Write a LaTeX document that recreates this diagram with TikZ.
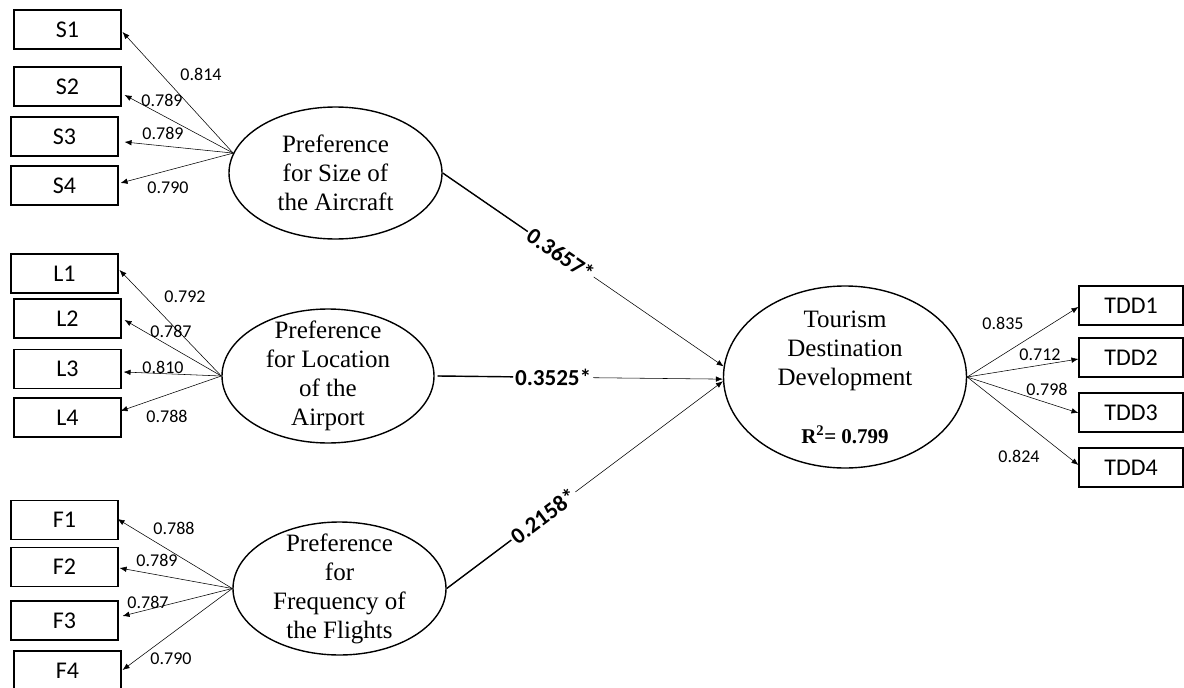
\documentclass[tikz,border=0pt]{standalone}
\usepackage{fontspec}
\setmainfont{Liberation Serif}
\newfontfamily\calibri{Carlito}
\usetikzlibrary{arrows.meta,shapes.geometric}

\begin{document}
\begin{tikzpicture}[x=1pt,y=-1pt,
  indicator/.style={draw, line width=1.1pt, minimum height=39pt, inner sep=0pt,
    font=\calibri\fontsize{24}{24}\selectfont},
  leftbox/.style={indicator, minimum width=107pt},
  rightbox/.style={indicator, minimum width=104pt},
  construct/.style={draw, ellipse, line width=1.4pt, inner sep=0pt},
  ctext/.style={align=center, font=\fontsize{25}{29}\selectfont, inner sep=0pt},
  loading/.style={line width=0.55pt, -{Latex[length=7pt,width=5.5pt]}},
  coef/.style={font=\calibri\fontsize{18}{18}\selectfont, inner sep=0pt},
  pathcoef/.style={font=\calibri\bfseries\fontsize{23}{23}\selectfont, fill=white,
    inner sep=2pt, sloped},
  paththin/.style={line width=0.55pt, -{Latex[length=7pt,width=5.5pt]}},
  paththick/.style={line width=1.4pt}
]
\useasboundingbox (0,0) rectangle (1184,688);

% ---- indicator boxes, left side
\node[leftbox] (S1) at (67.5,29.5) {S1};
\node[leftbox] (S2) at (67.5,86.5) {S2};
\node[leftbox] (S3) at (64.5,136.5) {S3};
\node[leftbox] (S4) at (64.5,185.5) {S4};

\node[leftbox] (L1) at (64.5,273.5) {L1};
\node[leftbox] (L2) at (67.5,318.5) {L2};
\node[leftbox] (L3) at (67.5,369) {L3};
\node[leftbox] (L4) at (67.5,417.5) {L4};

\node[leftbox] (F1) at (64.5,520) {F1};
\node[leftbox] (F2) at (64.5,567) {F2};
\node[leftbox] (F3) at (64.5,620.5) {F3};
\node[leftbox] (F4) at (67.5,670.5) {F4};

% ---- indicator boxes, right side
\node[rightbox] (D1) at (1131,305.5) {TDD1};
\node[rightbox] (D2) at (1131,357.5) {TDD2};
\node[rightbox] (D3) at (1131,412.5) {TDD3};
\node[rightbox] (D4) at (1131,467.5) {TDD4};

% ---- latent constructs
\node[construct, minimum width=213pt, minimum height=132pt] (S) at (335.5,173) {};
\node[ctext] (St) at (335.5,173) {Preference\\for Size of\\the Aircraft};

\node[construct, minimum width=212pt, minimum height=134pt] (L) at (328,376) {};
\node[ctext] (Lt) at (328,376) {Preference\\for Location\\of the\\Airport};

\node[construct, minimum width=213pt, minimum height=133pt] (F) at (339.5,588.5) {};
\node[ctext] (Ft) at (339.5,589) {Preference\\for\\Frequency of\\the Flights};

\node[construct, minimum width=243pt, minimum height=182pt] (T) at (845,377) {};
\node[ctext] (Tt) at (845,351) {Tourism\\Destination\\Development};
\node[anchor=base, inner sep=0pt, font=\bfseries\fontsize{21}{21}\selectfont] (R2) at (845,443) {R\textsuperscript{2}= 0.799};

% ---- outer loadings, Size
\draw[loading] (S.169.5) -- ([shift={(1,2.5)}]S1.east);
\draw[loading] (S.169.5) -- ([shift={(3,8.5)}]S2.east);
\draw[loading] (S.169.5) -- ([shift={(6,5.5)}]S3.east);
\draw[loading] (S.169.5) -- ([shift={(2,-2.5)}]S4.east);
\node[coef] (cS1) at (201,74) {0.814};
\node[coef] (cS2) at (162,100) {0.789};
\node[coef] (cS3) at (163,133) {0.789};
\node[coef] (cS4) at (168,188) {0.790};

% ---- outer loadings, Location
\draw[loading] (L.west) -- ([shift={(1,-3.5)}]L1.east);
\draw[loading] (L.west) -- ([shift={(3,1.5)}]L2.east);
\draw[loading] (L.west) -- ([shift={(2,3)}]L3.east);
\draw[loading] (L.west) -- ([shift={(-1,-6.5)}]L4.east);
\node[coef] (cL1) at (185,297) {0.792};
\node[coef] (cL2) at (171,331) {0.787};
\node[coef] (cL3) at (163,367) {0.810};
\node[coef] (cL4) at (167,416) {0.788};

% ---- outer loadings, Frequency
\draw[loading] (F.west) -- ([shift={(-1,-1)}]F1.east);
\draw[loading] (F.west) -- ([shift={(1,1)}]F2.east);
\draw[loading] (F.west) -- ([shift={(4,-4.5)}]F3.east);
\draw[loading] (F.west) -- ([shift={(1,-0.5)}]F4.east);
\node[coef] (cF1) at (174,528) {0.788};
\node[coef] (cF2) at (157,560) {0.789};
\node[coef] (cF3) at (148,602) {0.787};
\node[coef] (cF4) at (171,659) {0.790};

% ---- outer loadings, Tourism Destination Development
\draw[loading] (T.east) -- ([shift={(0,1.5)}]D1.west);
\draw[loading] (T.east) -- ([shift={(0,1.5)}]D2.west);
\draw[loading] (T.east) -- ([shift={(0,0.5)}]D3.west);
\draw[loading] (T.east) -- ([shift={(0,-2.5)}]D4.west);
\node[coef] (cD1) at (1003,323) {0.835};
\node[coef] (cD2) at (1040,355) {0.712};
\node[coef] (cD3) at (1047,389) {0.798};
\node[coef] (cD4) at (1019,456) {0.824};

% ---- structural paths
\draw[paththin] (S.east) -- (T.175.8);
\path (S.east) -- node[pathcoef, pos=0.42] (p1) {0.3657*} (T.175.8);
\draw[paththick] (S.east) -- (p1);

\draw[paththin] ([xshift=3pt]L.east) -- (T.181);
\path ([xshift=3pt]L.east) -- node[pathcoef, pos=0.405] (p2) {0.3525*} (T.181);
\draw[paththick] ([xshift=3pt]L.east) -- (p2);

\draw[paththin] (F.east) -- (T.182.5);
\path (F.east) -- node[pathcoef, pos=0.35] (p3) {0.2158*} (T.182.5);
\draw[paththick] (F.east) -- (p3);
\end{tikzpicture}
\end{document}
